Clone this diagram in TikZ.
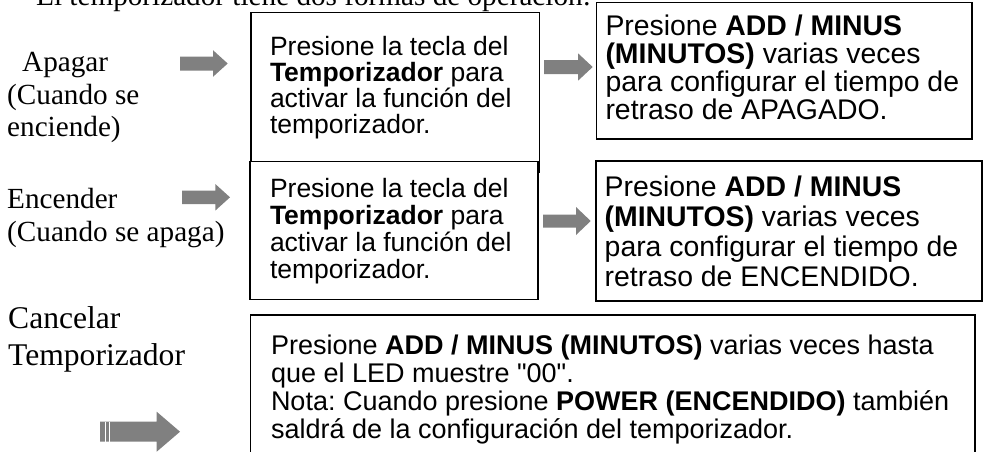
\documentclass[tikz,border=0pt]{standalone}
\usepackage{fontspec}
\setmainfont{Liberation Serif}
\setsansfont{Liberation Sans}
\definecolor{arrowgray}{RGB}{128,128,128}
\newcommand{\espacio}{\frenchspacing\spaceskip=0pt\xspaceskip=0pt\relax}
\tikzset{
  caja/.style={draw, fill=white, anchor=base west, outer sep=0pt, inner ysep=0pt, align=left,
    execute at begin node=\espacio},
  cajafina/.style={caja, line width=1.1pt},
  cajagruesa/.style={caja, line width=1.7pt},
  letraA/.style={font=\sffamily\fontsize{26.5}{26.2}\selectfont\espacio},
  letraB/.style={font=\sffamily\fontsize{28.4}{28.3}\selectfont\espacio},
  letraC/.style={font=\sffamily\fontsize{27}{28.3}\selectfont\espacio},
  etiqueta/.style={anchor=base west, inner sep=0pt, align=left, text width=230pt,
    execute at begin node=\espacio},
}
\newcommand{\flechagris}[6]{%
  \fill[arrowgray] (#1,#2-#4) -- (#1+#3-#6,#2-#4) -- (#1+#3-#6,#2-#5) -- (#1+#3,#2)
    -- (#1+#3-#6,#2+#5) -- (#1+#3-#6,#2+#4) -- (#1,#2+#4) -- cycle;}

\begin{document}
\begin{tikzpicture}[x=1pt,y=-1pt]
      \useasboundingbox (0,0) rectangle (984,451);

      \node[anchor=base west, inner sep=0pt, font=\fontsize{29.2}{32}\selectfont] (titulo) at (36,5.5) {El temporizador tiene dos formas de operación:};

      \node[etiqueta, font=\fontsize{29.2}{32.5}\selectfont\espacio] (apagar) at (7,71.7) {\hspace*{15pt}Apagar\\(Cuando se\\enciende)};
      \node[etiqueta, font=\fontsize{29.2}{33.4}\selectfont\espacio] (encender) at (7,208.3) {Encender\\(Cuando se apaga)};
      \node[etiqueta, font=\fontsize{31.6}{36.7}\selectfont\espacio] (cancelar) at (8,328.3) {Cancelar\\Temporizador};

      \node[cajafina, letraA, inner xsep=19pt, text width=250.5pt, text height=42.3pt, text depth=117pt] (teclaA) at (251,55)
        {Presione la tecla del\\\textbf{Temporizador} para\\activar la función del\\temporizador.};
      \node[cajafina, letraA, font=\sffamily\fontsize{26.5}{27}\selectfont\espacio, inner xsep=20pt, text width=248pt, text height=35.6pt, text depth=102pt] (teclaB) at (250,197.3)
        {Presione la tecla del\\\textbf{Temporizador} para\\activar la función del\\temporizador.};

      \node[cajagruesa, letraB, inner xsep=9pt, text width=357.2pt, text height=32.5pt, text depth=104.3pt] (minutosA) at (596.5,35)
        {Presione \textbf{ADD / MINUS}\\\textbf{(MINUTOS)} varias veces\\para~configurar~el~tiempo~de\\retraso de APAGADO.};
      \node[cajagruesa, letraB, font=\sffamily\fontsize{28.4}{30}\selectfont\espacio, inner xsep=9pt, text width=368.3pt, text height=35pt, text depth=105pt] (minutosB) at (595.7,196)
        {Presione \textbf{ADD / MINUS}\\\textbf{(MINUTOS)} varias veces\\para~configurar~el~tiempo~de\\retraso de ENCENDIDO.};

      \node[cajagruesa, letraC, inner xsep=20.5pt, text width=683.5pt, text height=39pt, text depth=116pt] (cancelarA) at (250.5,354)
        {Presione \textbf{ADD / MINUS (MINUTOS)} varias veces hasta\\que el LED muestre \textquotedbl00\textquotedbl.\\Nota:~Cuando~presione~\textbf{POWER~(ENCENDIDO)}~también\\saldrá de la configuración del temporizador.};

      \flechagris{180}{63.5}{47.7}{7}{13.3}{14.7}
      \flechagris{182}{197.3}{48}{6.7}{13.3}{14.7}
      \flechagris{544}{67}{48.7}{7}{13.7}{14.7}
      \flechagris{543}{221}{47.7}{6.5}{14}{14.7}
      \flechagris{100}{431.7}{80}{10}{20}{23.3}
      \draw[white, line width=0.8pt] (105,421.7) -- (105,441.7);
      \draw[white, line width=0.8pt] (109.3,421.7) -- (109.3,441.7);
    \end{tikzpicture}
\end{document}
